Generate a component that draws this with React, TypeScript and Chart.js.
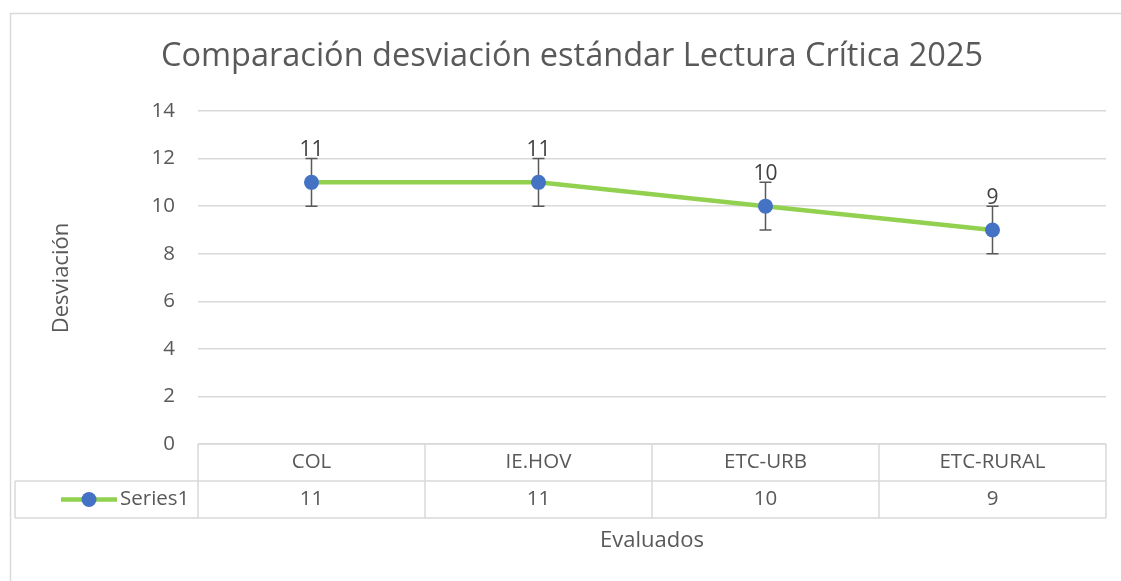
import React, { useEffect, useRef } from "react";
import { Chart, registerables } from "chart.js";

Chart.register(...registerables);

const chartTitle = "Comparación desviación estándar Lectura Crítica 2025";
const categories = ["COL", "IE.HOV", "ETC-URB", "ETC-RURAL"];
const seriesName = "Series1";
const seriesValues = [11, 11, 10, 9];
const errorAmounts = [1, 1, 1, 1];
const yTitle = "Desviación";
const xTitle = "Evaluados";
const yMin = 0;
const yMax = 14;
const yStep = 2;

const FONT = "'Open Sans', 'Noto Sans', sans-serif";
const TEXT = "#595959";
const GRID = "#d9d9d9";
const LINE = "#92d050";
const MARK = "#4472c4";

const excelPlugin = {
  id: "excelDecor",
  beforeDraw(chart: any) {
    const ctx = chart.ctx;
    const area = chart.chartArea;
    const xs = chart.scales.x;
    ctx.save();
    ctx.fillStyle = "#ffffff";
    ctx.fillRect(0, 0, chart.width, chart.height);
    // outer border
    ctx.strokeStyle = GRID;
    ctx.lineWidth = 1.5;
    ctx.strokeRect(10.5, 13.5, chart.width + 20, chart.height + 20);
    // title
    ctx.fillStyle = TEXT;
    ctx.font = `32.5px ${FONT}`;
    ctx.textAlign = "center";
    ctx.textBaseline = "middle";
    ctx.fillText(chartTitle, 572, 57);
    // y title
    ctx.font = `22px ${FONT}`;
    ctx.save();
    ctx.translate(62, 278);
    ctx.rotate(-Math.PI / 2);
    ctx.fillText(yTitle, 0, 0);
    ctx.restore();
    // x title
    ctx.fillText(xTitle, 652, 541);

    // data table
    const rowH = 37;
    const top = area.bottom;
    const mid = top + rowH;
    const bot = mid + rowH;
    const legendLeft = 15;
    const catW = (area.right - area.left) / categories.length;
    ctx.strokeStyle = GRID;
    ctx.lineWidth = 1.5;
    ctx.beginPath();
    ctx.moveTo(area.left, top);
    ctx.lineTo(area.right, top);
    ctx.moveTo(legendLeft, mid);
    ctx.lineTo(area.right, mid);
    ctx.moveTo(legendLeft, bot);
    ctx.lineTo(area.right, bot);
    ctx.moveTo(legendLeft, mid);
    ctx.lineTo(legendLeft, bot);
    for (let i = 0; i <= categories.length; i++) {
      const x = area.left + i * catW;
      ctx.moveTo(x, top);
      ctx.lineTo(x, bot);
    }
    ctx.stroke();

    ctx.fillStyle = TEXT;
    ctx.font = `20.5px ${FONT}`;
    ctx.textAlign = "center";
    categories.forEach((c, i) => {
      const x = xs.getPixelForValue(i);
      ctx.fillText(c, x, top + rowH / 2);
      ctx.fillText(String(seriesValues[i]), x, mid + rowH / 2);
    });
    // legend key
    const ky = mid + rowH / 2;
    ctx.strokeStyle = LINE;
    ctx.lineWidth = 4.5;
    ctx.beginPath();
    ctx.moveTo(61, ky);
    ctx.lineTo(117, ky);
    ctx.stroke();
    ctx.fillStyle = MARK;
    ctx.beginPath();
    ctx.arc(89, ky, 7.5, 0, Math.PI * 2);
    ctx.fill();
    ctx.fillStyle = TEXT;
    ctx.textAlign = "left";
    ctx.fillText(seriesName, 120, ky);
    ctx.restore();
  },
  beforeDatasetsDraw(chart: any) {
    const ctx = chart.ctx;
    const xs = chart.scales.x;
    const ys = chart.scales.y;
    ctx.save();
    ctx.strokeStyle = "#595959";
    ctx.lineWidth = 1.5;
    ctx.beginPath();
    seriesValues.forEach((v, i) => {
      const x = xs.getPixelForValue(i);
      const yHi = ys.getPixelForValue(v + errorAmounts[i]);
      const yLo = ys.getPixelForValue(v - errorAmounts[i]);
      ctx.moveTo(x, yHi);
      ctx.lineTo(x, yLo);
      ctx.moveTo(x - 6, yHi);
      ctx.lineTo(x + 6, yHi);
      ctx.moveTo(x - 6, yLo);
      ctx.lineTo(x + 6, yLo);
    });
    ctx.stroke();
    ctx.restore();
  },
  afterDatasetsDraw(chart: any) {
    const ctx = chart.ctx;
    const xs = chart.scales.x;
    const ys = chart.scales.y;
    ctx.save();
    ctx.fillStyle = "#404040";
    ctx.font = `21px ${FONT}`;
    ctx.textAlign = "center";
    ctx.textBaseline = "middle";
    seriesValues.forEach((v, i) => {
      ctx.fillText(String(v), xs.getPixelForValue(i), ys.getPixelForValue(v) - 32);
    });
    ctx.restore();
  },
};

export default function App() {
  const ref = useRef<HTMLCanvasElement | null>(null);
  useEffect(() => {
    if (!ref.current) return;
    const chart = new Chart(ref.current, {
      type: "line",
      data: {
        labels: categories,
        datasets: [
          {
            label: seriesName,
            data: seriesValues,
            borderColor: LINE,
            backgroundColor: LINE,
            borderWidth: 4.5,
            pointRadius: 7.5,
            pointBackgroundColor: MARK,
            pointBorderColor: MARK,
            pointBorderWidth: 0,
            tension: 0,
          },
        ],
      },
      options: {
        animation: false,
        responsive: false,
        maintainAspectRatio: false,
        layout: { padding: { left: 0, right: 15, top: 111, bottom: 137 } },
        plugins: {
          legend: { display: false },
          title: { display: false },
          tooltip: { enabled: false },
        },
        scales: {
          x: { type: "category", offset: true, display: false },
          y: {
            min: yMin,
            max: yMax,
            afterFit: (s: any) => {
              s.width = 198;
            },
            ticks: {
              stepSize: yStep,
              padding: 23,
              color: TEXT,
              font: { family: FONT, size: 20.5 },
            },
            grid: { color: GRID, lineWidth: 1.5, drawTicks: false },
            border: { display: false },
          },
        },
      },
      plugins: [excelPlugin],
    });
    return () => chart.destroy();
  }, []);
  return (
    <div style={{ position: "fixed", left: 0, top: 0, width: 1121, height: 581, background: "#fff" }}>
      <canvas ref={ref} width={1121} height={581} style={{ display: "block" }} />
    </div>
  );
}
